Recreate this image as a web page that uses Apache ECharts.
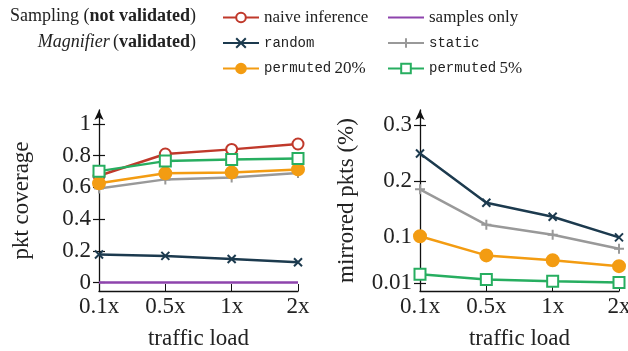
<!DOCTYPE html>
<html>
<head>
<meta charset="utf-8">
<script src="https://cdn.jsdelivr.net/npm/echarts@6/dist/echarts.min.js"></script>
<style>html,body{margin:0;padding:0;background:#fff}#main{width:628px;height:351px}</style>
</head>
<body>
<div id="main"></div>
<script>
// categories
var loads = ['0.1x', '0.5x', '1x', '2x'];

// left: pkt coverage
var covNaive = [0.673, 0.81, 0.839, 0.873];
var covSamples = [0, 0, 0, 0];
var covRandom = [0.177, 0.168, 0.149, 0.128];
var covStatic = [0.593, 0.65, 0.662, 0.69];
var covPerm20 = [0.625, 0.688, 0.694, 0.713];
var covPerm5 = [0.702, 0.765, 0.776, 0.782];

// right: mirrored pkts (%)
var mirRandom = [0.249, 0.161, 0.136, 0.099];
var mirStatic = [0.185, 0.1215, 0.1036, 0.0785];
var mirPerm20 = [0.101, 0.0667, 0.058, 0.0475];
var mirPerm5 = [0.033, 0.0236, 0.0206, 0.018];

// tick labels
var covTicks = [0, 0.2, 0.4, 0.6, 0.8, 1];
var covTickLabels = ['0', '0.2', '0.4', '0.6', '0.8', '1'];
var mirTicks = [0.0175, 0.1, 0.2, 0.3];
var mirTickLabels = ['0.01', '0.1', '0.2', '0.3'];

var serif = 'Liberation Serif';
var mono = 'Liberation Mono';
var C = {
  naive: '#c0392b', samples: '#8e44ad', random: '#1c3a4e',
  stat: '#999999', p20: '#f39c12', p5: '#27ae60'
};
var xMark = 'path://M0,0L10,10M10,0L0,10';
var plusMark = 'path://M5,0L5,10M0,5L10,5';

var dom = document.getElementById('main');
var myChart = echarts.init(dom);

function labelOf(ticks, labels) {
  return function (v) {
    for (var i = 0; i < ticks.length; i++) {
      if (Math.abs(ticks[i] - v) < 1e-6) return labels[i];
    }
    return '';
  };
}

function xAxisFor(grid) {
  return {
    type: 'category', gridIndex: grid, data: loads, boundaryGap: false,
    name: 'traffic load', nameLocation: 'middle', nameGap: 36,
    nameTextStyle: { fontFamily: serif, fontSize: 23, color: '#222' },
    axisLine: { onZero: false, lineStyle: { color: '#111', width: 1.3 } },
    axisTick: { inside: true, length: 7, lineStyle: { color: '#111' } },
    axisLabel: { fontFamily: serif, fontSize: 23, color: '#222', margin: 4 },
    splitLine: { show: false }
  };
}

// the outer axis carries labels and outside ticks; a bare twin adds the inside half of each tick
function yAxisFor(grid, min, max, ticks, labels, name, gap, inside) {
  return {
    type: 'value', gridIndex: grid, position: 'left', min: min, max: max,
    name: inside ? '' : name, nameLocation: 'middle', nameGap: gap,
    nameTextStyle: { fontFamily: serif, fontSize: 23, color: '#222' },
    axisLine: {
      show: !inside, onZero: false, symbol: ['none', 'arrow'], symbolSize: [7, 10],
      lineStyle: { color: '#111', width: 1.3 }
    },
    axisTick: { show: true, inside: inside, length: 6, customValues: ticks, lineStyle: { color: '#111', width: 1.2 } },
    axisLabel: {
      show: !inside, customValues: ticks, formatter: labelOf(ticks, labels),
      fontFamily: serif, fontSize: 23, color: '#222', margin: 8
    },
    splitLine: { show: false }
  };
}

function line(name, grid, data, color, symbol, size) {
  return {
    name: name, type: 'line', xAxisIndex: grid, yAxisIndex: grid * 2,
    data: data, symbol: symbol, symbolSize: size, showAllSymbol: true,
    lineStyle: { color: color, width: 2.5 },
    itemStyle: { color: color, borderColor: color, borderWidth: 2 },
    z: 3
  };
}

var names = ['naive inference', 'samples only', 'random', 'static', 'permuted 20%', 'permuted 5%'];

function legendFmt(n) {
  if (n === 'random' || n === 'static') return '{tt|' + n + '}';
  if (n.indexOf('permuted') === 0) return '{tt|permuted} {rm|' + n.split(' ')[1] + '}';
  return '{rm|' + n + '}';
}
var legendText = {
  rich: {
    tt: { fontFamily: mono, fontSize: 14, color: '#222' },
    rm: { fontFamily: serif, fontSize: 17, color: '#222' }
  }
};

option = {
  animation: false,
  backgroundColor: '#fff',
  grid: [
    { left: 99, right: 330, top: 110, bottom: 60, outerBoundsMode: 'none', containLabel: false },
    { left: 420, right: 9, top: 110, bottom: 60, outerBoundsMode: 'none', containLabel: false }
  ],
  legend: [
    {
      orient: 'vertical', left: 222, top: 9, padding: 0, itemWidth: 36, itemHeight: 12, itemGap: 10,
      data: [names[0], names[2], names[4]], formatter: legendFmt, textStyle: legendText
    },
    {
      orient: 'vertical', left: 387, top: 9, padding: 0, itemWidth: 36, itemHeight: 12, itemGap: 10,
      data: [{ name: names[1], itemStyle: { opacity: 0 } }, names[3], names[5]],
      formatter: legendFmt, textStyle: legendText
    }
  ],
  graphic: [
    {
      type: 'text', right: 628 - 196, top: 7,
      style: {
        text: '{n|Sampling (}{b|not validated}{n|)}',
        rich: {
          n: { fontFamily: serif, fontSize: 18, fill: '#222' },
          b: { fontFamily: serif, fontSize: 18, fontWeight: 'bold', fill: '#222' }
        }
      }
    },
    {
      type: 'text', right: 628 - 196, top: 33,
      style: {
        text: '{i|Magnifier} {n|(}{b|validated}{n|)}',
        rich: {
          n: { fontFamily: serif, fontSize: 18, fill: '#222' },
          i: { fontFamily: serif, fontSize: 18, fontStyle: 'italic', fill: '#222' },
          b: { fontFamily: serif, fontSize: 18, fontWeight: 'bold', fill: '#222' }
        }
      }
    }
  ],
  xAxis: [xAxisFor(0), xAxisFor(1)],
  yAxis: [
    yAxisFor(0, -0.053, 1.087, covTicks, covTickLabels, 'pkt coverage', 66, false),
    yAxisFor(0, -0.053, 1.087, covTicks, covTickLabels, '', 0, true),
    yAxisFor(1, 0.003, 0.327, mirTicks, mirTickLabels, 'mirrored pkts (%)', 62, false),
    yAxisFor(1, 0.003, 0.327, mirTicks, mirTickLabels, '', 0, true)
  ],
  series: [
    line(names[0], 0, covNaive, C.naive, 'emptyCircle', 11),
    line(names[1], 0, covSamples, C.samples, 'none', 0),
    line(names[2], 0, covRandom, C.random, xMark, 8),
    line(names[3], 0, covStatic, C.stat, plusMark, 10),
    line(names[4], 0, covPerm20, C.p20, 'circle', 12),
    line(names[5], 0, covPerm5, C.p5, 'emptyRect', 11),
    line(names[2], 1, mirRandom, C.random, xMark, 8),
    line(names[3], 1, mirStatic, C.stat, plusMark, 10),
    line(names[4], 1, mirPerm20, C.p20, 'circle', 12),
    line(names[5], 1, mirPerm5, C.p5, 'emptyRect', 11)
  ]
};

if (option && typeof option === 'object') {
  myChart.setOption(option, true);
}
</script>
</body>
</html>
